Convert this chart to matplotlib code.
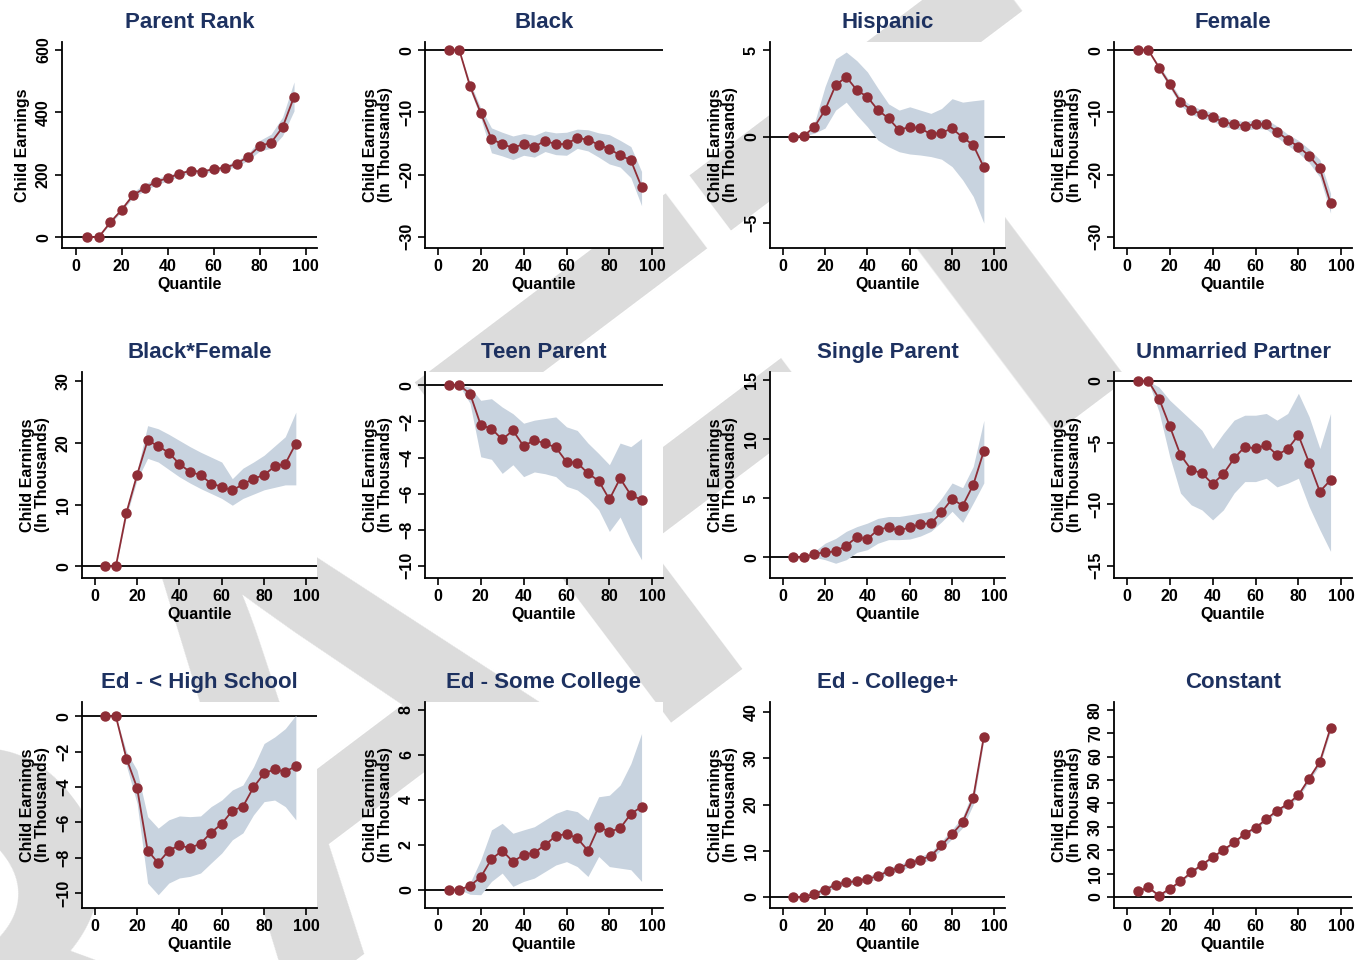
import numpy as np
import matplotlib.pyplot as plt

plt.rcParams['font.family'] = ['Liberation Sans', 'DejaVu Sans']

quantile = [5, 10, 15, 20, 25, 30, 35, 40, 45, 50, 55, 60, 65, 70, 75, 80, 85, 90, 95]

titles = ['Parent Rank', 'Black', 'Hispanic', 'Female',
          'Black*Female', 'Teen Parent', 'Single Parent', 'Unmarried Partner',
          'Ed - < High School', 'Ed - Some College', 'Ed - College+', 'Constant']

# point estimates
parent_rank = [0, 0, 47, 88, 135, 157, 178, 189, 203, 213, 210, 218, 223, 235, 258, 292, 303, 352, 450]
black = [0, 0, -5.8, -10.1, -14.3, -15.1, -15.7, -15.1, -15.5, -14.6, -15.1, -15.1, -14.1, -14.4, -15.2, -15.9, -16.9, -17.7, -22.0]
hispanic = [0, 0.05, 0.58, 1.54, 2.98, 3.46, 2.7, 2.3, 1.54, 1.06, 0.38, 0.58, 0.48, 0.15, 0.23, 0.48, -0.04, -0.48, -1.77]
female = [0, 0, -2.8, -5.5, -8.3, -9.6, -10.3, -10.7, -11.6, -11.9, -12.2, -11.9, -11.9, -13.1, -14.4, -15.5, -17.0, -19.0, -24.6]
black_female = [0, 0, 8.7, 14.8, 20.4, 19.5, 18.4, 16.6, 15.3, 14.8, 13.4, 12.9, 12.3, 13.3, 14.2, 14.8, 16.2, 16.6, 19.9]
teen_parent = [0, 0, -0.46, -2.2, -2.4, -3.0, -2.5, -3.37, -3.04, -3.22, -3.44, -4.24, -4.29, -4.88, -5.29, -6.32, -5.16, -6.08, -6.35]
single_parent = [0, 0, 0.3, 0.42, 0.5, 1.0, 1.7, 1.55, 2.34, 2.54, 2.28, 2.54, 2.8, 2.9, 3.8, 4.96, 4.37, 6.14, 9.0]
unmarried = [0, 0, -1.43, -3.67, -6.0, -7.2, -7.5, -8.36, -7.55, -6.29, -5.34, -5.48, -5.2, -6.0, -5.53, -4.4, -6.64, -8.98, -8.04]
ed_lths = [0, 0, -2.39, -4.04, -7.6, -8.3, -7.6, -7.3, -7.46, -7.2, -6.58, -6.09, -5.34, -5.11, -4.02, -3.23, -3.0, -3.14, -2.82]
ed_somecol = [0, 0, 0.18, 0.56, 1.36, 1.74, 1.25, 1.55, 1.65, 1.99, 2.39, 2.48, 2.29, 1.74, 2.8, 2.58, 2.73, 3.37, 3.69]
ed_college = [0, 0, 0.7, 1.6, 2.66, 3.2, 3.4, 4.0, 4.46, 5.7, 6.26, 7.3, 8.06, 8.9, 11.2, 13.6, 16.2, 21.5, 34.7]
constant = [2.4, 4.1, 0.6, 3.5, 6.7, 10.5, 13.8, 17.0, 20.1, 23.3, 27.0, 29.6, 33.2, 36.9, 39.7, 43.5, 50.6, 57.7, 72.3]

# 95% confidence bands
parent_rank_hi = [0, 0, 52, 95, 145, 170, 188, 198, 210, 218, 217, 223, 230, 245, 268, 310, 330, 385, 498]
parent_rank_lo = [0, 0, 42, 82, 128, 148, 168, 180, 195, 206, 204, 210, 216, 226, 246, 276, 285, 325, 405]
black_hi = [0, 0, -5.2, -9.3, -12.5, -13.2, -13.8, -13.4, -13.7, -13.0, -13.3, -13.2, -12.7, -12.8, -13.3, -13.6, -14.5, -15.5, -19.5]
black_lo = [0, 0, -6.4, -10.9, -16.5, -17.0, -17.6, -16.9, -17.2, -16.3, -16.8, -16.9, -15.8, -16.2, -17.2, -18.3, -18.8, -20.5, -25.0]
hispanic_hi = [0, 0.05, 0.8, 2.9, 4.5, 4.9, 4.4, 3.75, 2.8, 1.9, 1.54, 1.73, 1.54, 1.35, 1.63, 2.2, 2.0, 2.08, 2.15]
hispanic_lo = [0, 0.05, 0.2, 0.5, 1.54, 2.0, 1.25, 0.58, -0.2, -0.58, -0.87, -1.0, -1.06, -1.15, -1.3, -1.73, -2.5, -3.46, -5.0]
female_hi = [0, 0, -2.4, -5.0, -7.7, -8.9, -9.6, -10.0, -10.9, -11.2, -11.5, -11.2, -11.1, -12.2, -13.5, -14.5, -15.9, -17.6, -23.0]
female_lo = [0, 0, -3.2, -6.0, -8.9, -10.3, -11.0, -11.4, -12.3, -12.6, -12.9, -12.6, -12.7, -14.0, -15.3, -16.5, -18.1, -20.4, -26.2]
black_female_hi = [0, 0, 9.3, 15.5, 22.8, 22.3, 21.4, 20.4, 19.4, 18.5, 17.7, 16.9, 14.2, 15.9, 16.9, 18.0, 19.5, 21.0, 25.0]
black_female_lo = [0, 0, 8.1, 14.0, 17.5, 16.9, 15.7, 14.5, 13.5, 12.6, 11.8, 11.0, 9.9, 11.0, 11.7, 12.4, 12.8, 13.2, 13.2]
teen_parent_hi = [0, 0, -0.1, -0.83, -0.74, -1.2, -1.57, -2.1, -1.93, -1.84, -1.75, -2.3, -2.5, -3.2, -3.78, -4.4, -3.2, -3.4, -2.95]
teen_parent_lo = [0, 0, -1.0, -3.96, -4.1, -4.88, -4.4, -5.06, -4.8, -4.9, -5.06, -5.6, -5.8, -6.26, -6.9, -8.1, -7.3, -8.6, -9.67]
single_parent_hi = [0, 0, 0.5, 1.2, 1.6, 2.2, 2.6, 2.9, 3.3, 3.46, 3.46, 3.6, 3.75, 3.9, 5.0, 6.3, 5.9, 7.7, 11.6]
single_parent_lo = [0, 0, 0.0, -0.2, -0.5, -0.2, 0.42, 0.65, 1.2, 1.5, 1.5, 1.55, 1.8, 2.2, 3.0, 3.9, 2.96, 4.6, 6.3]
unmarried_hi = [0, 0, -0.5, -1.56, -2.37, -3.18, -4.0, -5.48, -4.26, -3.18, -2.78, -2.78, -2.64, -3.18, -2.64, -1.0, -2.9, -5.48, -2.64]
unmarried_lo = [0, 0, -2.5, -6.15, -9.1, -10.06, -10.47, -11.28, -10.47, -9.1, -8.17, -8.17, -7.9, -8.6, -8.3, -7.9, -10.2, -12.08, -13.84]
ed_lths_hi = [0, 0, -2.0, -3.05, -5.68, -6.33, -5.86, -5.64, -5.68, -5.64, -5.11, -4.74, -4.17, -3.89, -2.86, -1.54, -1.17, -0.7, 0.06]
ed_lths_lo = [0, 0, -2.8, -4.92, -9.44, -10.1, -9.44, -9.15, -9.06, -8.87, -8.3, -7.74, -6.99, -6.6, -5.58, -4.83, -4.74, -5.11, -5.86]
ed_somecol_hi = [0, 0, 0.3, 1.33, 2.66, 2.95, 2.51, 2.66, 2.8, 3.1, 3.39, 3.57, 3.47, 3.1, 4.13, 4.2, 4.65, 5.6, 6.94]
ed_somecol_lo = [0, 0, -0.2, -0.22, 0.37, 0.74, 0.15, 0.37, 0.52, 0.81, 1.1, 1.25, 1.03, 0.59, 1.48, 1.03, 0.96, 0.89, 0.37]
ed_college_hi = [0, 0, 1.2, 2.2, 3.3, 3.8, 4.0, 4.6, 5.1, 6.4, 7.0, 8.0, 8.8, 9.7, 12.1, 14.6, 17.4, 23.0, 35.5]
ed_college_lo = [0, 0, 0.2, 1.0, 2.0, 2.6, 2.8, 3.4, 3.8, 5.0, 5.5, 6.6, 7.3, 8.1, 10.3, 12.6, 15.0, 20.0, 33.9]
constant_hi = [3.0, 4.7, 1.2, 4.1, 7.3, 11.1, 14.4, 17.6, 20.7, 23.9, 27.7, 30.3, 33.9, 37.7, 40.6, 44.5, 51.8, 59.0, 73.8]
constant_lo = [1.8, 3.5, 0.0, 2.9, 6.1, 9.9, 13.2, 16.4, 19.5, 22.7, 26.3, 28.9, 32.5, 36.1, 38.8, 42.5, 49.4, 56.4, 70.8]

series = [parent_rank, black, hispanic, female, black_female, teen_parent,
          single_parent, unmarried, ed_lths, ed_somecol, ed_college, constant]
upper = [parent_rank_hi, black_hi, hispanic_hi, female_hi, black_female_hi, teen_parent_hi,
         single_parent_hi, unmarried_hi, ed_lths_hi, ed_somecol_hi, ed_college_hi, constant_hi]
lower = [parent_rank_lo, black_lo, hispanic_lo, female_lo, black_female_lo, teen_parent_lo,
         single_parent_lo, unmarried_lo, ed_lths_lo, ed_somecol_lo, ed_college_lo, constant_lo]

yticks = [[0, 200, 400, 600], [-30, -20, -10, 0], [-5, 0, 5], [-30, -20, -10, 0],
          [0, 10, 20, 30], [-10, -8, -6, -4, -2, 0], [0, 5, 10, 15], [-15, -10, -5, 0],
          [-10, -8, -6, -4, -2, 0], [0, 2, 4, 6, 8], [0, 10, 20, 30, 40],
          [0, 10, 20, 30, 40, 50, 60, 70, 80]]
ylims = [(-35, 626), (-31.8, 1.3), (-6.44, 5.48), (-31.8, 1.3),
         (-1.9, 31.5), (-10.68, 0.74), (-1.75, 15.7), (-16.0, 0.73),
         (-10.85, 0.81), (-0.81, 8.34), (-2.37, 42.2), (-4.7, 83.3)]

W, H = 1359, 960
fig = plt.figure(figsize=(W / 100, H / 100), dpi=100)

# DRAFT watermark, only visible outside the (white) plot regions
fig.text(-0.325, -0.594, 'DRAFT', rotation=37, rotation_mode='anchor',
         fontsize=446, color='#dcdcdc', ha='left', va='baseline',
         fontweight='bold', zorder=-1)

col_left = [82, 425, 770, 1114]
col_right = [317, 663, 1005, 1352]
row_top = [42, 372, 702]
row_bot = [248, 578, 908]

maroon = '#8e2d36'
band = '#c8d3df'
navy = '#1d3160'

for i in range(12):
    r, c = divmod(i, 4)
    left = col_left[c] if i != 0 else 62
    ax = fig.add_axes([left / W, 1 - row_bot[r] / H,
                       (col_right[c] - left) / W, (row_bot[r] - row_top[r]) / H])
    ax.set_facecolor('white')
    ax.axhline(0, color='black', lw=1.3, zorder=1)
    ax.fill_between(quantile, lower[i], upper[i], color=band, lw=0, zorder=2)
    ax.plot(quantile, series[i], color=maroon, lw=1.3, marker='o', ms=6.5, zorder=3)
    ax.set_xlim(-6, 105)
    ax.set_ylim(*ylims[i])
    ax.set_xticks([0, 20, 40, 60, 80, 100])
    ax.set_yticks(yticks[i])
    ax.tick_params(axis='both', labelsize=11.5, length=5, width=1.2, pad=3)
    for lab in ax.get_xticklabels():
        lab.set_fontweight('bold')
    for lab in ax.get_yticklabels():
        lab.set_fontweight('bold')
        lab.set_rotation(90)
        lab.set_va('center')
    for s in ['top', 'right']:
        ax.spines[s].set_visible(False)
    for s in ['left', 'bottom']:
        ax.spines[s].set_linewidth(1.3)
    ax.set_xlabel('Quantile', fontsize=11.5, fontweight='bold', labelpad=2)
    if i == 0:
        ax.set_ylabel('Child Earnings', fontsize=11.5, fontweight='bold', labelpad=4)
    else:
        ax.set_ylabel('Child Earnings\n(In Thousands)', fontsize=11.5, fontweight='bold',
                      labelpad=4, linespacing=1.0)
    ax.set_title(titles[i], fontsize=16, fontweight='bold', color=navy, pad=10)

fig.savefig('out.png', dpi=100)
